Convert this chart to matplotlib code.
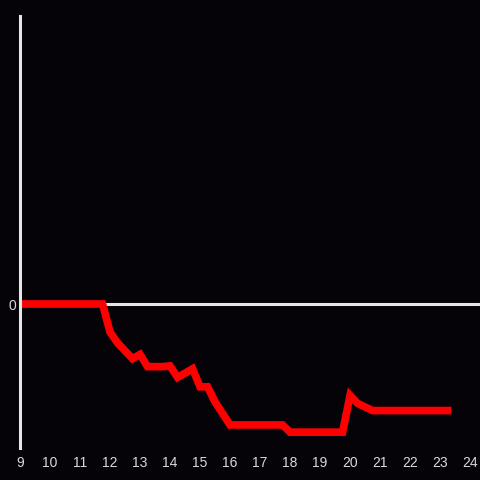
import matplotlib
matplotlib.use('Agg')
import matplotlib.pyplot as plt

# hour of day vs. cumulative change (arbitrary units)
hours = [9.0, 11.75, 12.0, 12.25, 12.75, 13.0, 13.25, 13.75, 14.0, 14.25,
         14.75, 15.0, 15.25, 15.5, 16.0, 17.75, 18.0, 19.75, 20.0, 20.25,
         20.75, 23.25]
values = [0.0, 0.0, -1.95, -2.7, -3.8, -3.5, -4.35, -4.35, -4.3, -5.1,
          -4.5, -5.75, -5.75, -6.8, -8.4, -8.4, -8.9, -8.9, -6.35, -6.9,
          -7.4, -7.4]

xticks = list(range(9, 25))

bg = '#050308'
fg = '#e6e6e6'

plt.rcParams['font.family'] = ['Liberation Sans', 'DejaVu Sans']

fig = plt.figure(figsize=(4.8, 4.8), dpi=100, facecolor=bg)
ax = fig.add_axes([20 / 480, 32 / 480, 460 / 480, 432 / 480], facecolor=bg)

ax.axhline(0, color=fg, lw=2.2, zorder=1)
ax.plot(hours, values, color='#ff0000', lw=5.5, solid_joinstyle='miter', zorder=2)

ax.set_xlim(9, 24.33)
ax.set_ylim(-10, 20)
ax.set_xticks(xticks)
ax.set_yticks([0])
ax.tick_params(length=0, colors='#d9d9d9', labelsize=10)
ax.tick_params(axis='x', pad=5.5)
ax.tick_params(axis='y', pad=3)

for side in ['top', 'right', 'bottom']:
    ax.spines[side].set_visible(False)
ax.spines['left'].set_color(fg)
ax.spines['left'].set_linewidth(2.2)

fig.savefig('out.png', facecolor=bg)
